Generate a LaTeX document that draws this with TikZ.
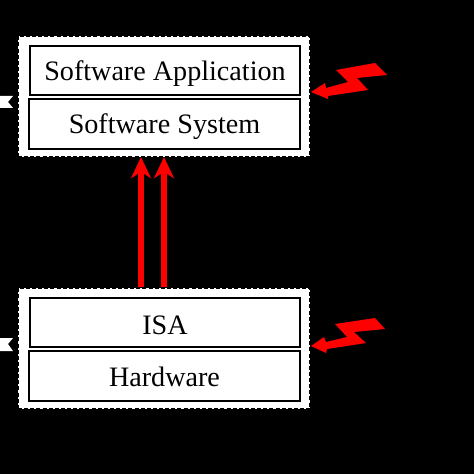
\documentclass[tikz,border=0pt]{standalone}
\usepackage{fontspec}
\setmainfont{Liberation Serif}
\usetikzlibrary{arrows.meta}
\tikzset{
  outerbox/.style={fill=white,draw=black,line width=0.9pt,dash pattern=on 3pt off 1.6pt},
  innerbox/.style={draw=black,fill=white,line width=1.3pt,inner sep=0pt},
  boxtext/.style={inner sep=0pt,font=\fontsize{21.1pt}{24pt}\selectfont},
  redarrow/.style={draw=red,line width=4pt,-{Stealth[length=16pt,width=15pt,inset=5pt]},shorten >=0pt},
  bolt/.style={fill=red,draw=none},
  tab/.style={fill=white,draw=none}
}
\begin{document}
\begin{tikzpicture}[x=0.75pt,y=-0.75pt]
\useasboundingbox[fill=black] (0,0) rectangle (474,474);
% outer dashed boxes
\node[outerbox,minimum width=219pt,minimum height=90.75pt,inner sep=0pt] (top) at (164,96.5) {};
\node[outerbox,minimum width=219pt,minimum height=90.75pt,inner sep=0pt] (bottom) at (164,348.5) {};
% inner boxes
\node[innerbox,minimum width=202.5pt,minimum height=36.75pt] (app) at (165,70.5) {};
\node[innerbox,minimum width=203.25pt,minimum height=37.5pt] (sys) at (164.5,124) {};
\node[innerbox,minimum width=202.5pt,minimum height=36.75pt] (isa) at (165,322.5) {};
\node[innerbox,minimum width=203.25pt,minimum height=37.5pt] (hw) at (164.5,376) {};
% labels
\node[boxtext,yshift=-2.2pt] at (app.center) {Software Application};
\node[boxtext,yshift=-2.2pt] at (sys.center) {Software System};
\node[boxtext,yshift=-1.8pt] at (isa.center) {ISA};
\node[boxtext,yshift=-0.4pt] at (hw.center) {Hardware};
% arrows
\coordinate (a1s) at (141,287);
\coordinate (a1e) at (141,157);
\coordinate (a2s) at (164,287);
\coordinate (a2e) at (164,157);
\draw[redarrow] (a1s) -- (a1e);
\draw[redarrow] (a2s) -- (a2e);
% lightning bolts
\fill[bolt] (311,92) -- (325,83) -- (326,88) -- (348,82) -- (336,70) -- (375,63) -- (387,75) -- (357,78) -- (368,90) -- (328,96) -- (328,99) -- cycle;
\fill[bolt] (311,346) -- (324,337) -- (326,342) -- (347,337) -- (335,324) -- (375,318) -- (385,329) -- (354,332) -- (366,343) -- (327,349) -- (326,353) -- cycle;
% left tabs
\fill[tab] (0,96) -- (13,96) -- (8,102) -- (13,108) -- (0,108) -- cycle;
\fill[tab] (0,338) -- (13,338) -- (8,344) -- (13,351) -- (0,351) -- cycle;
\end{tikzpicture}
\end{document}
